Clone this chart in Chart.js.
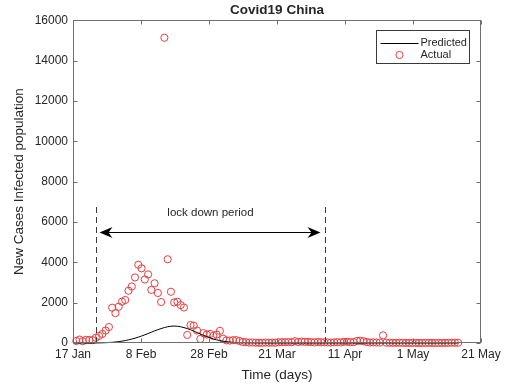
<!DOCTYPE html>
<html>
<head>
<meta charset="utf-8">
<script src="https://cdn.jsdelivr.net/npm/chart.js@4"></script>
<style>
  html, body { margin: 0; padding: 0; background: #fff; }
  #chart { display: block; }
</style>
</head>
<body>
<canvas id="chart" width="508" height="387"></canvas>
<script>
// --- data (x = day index, 0 = 17 Jan) ---
const xTickDays = [0, 20.83, 41.67, 62.5, 83.33, 104.17, 125];
const xTickLabels = ['17 Jan', '8 Feb', '28 Feb', '21 Mar', '11 Apr', '1 May', '21 May'];
const yTicks = [0, 2000, 4000, 6000, 8000, 10000, 12000, 14000, 16000];
const firstDay = 1;

const actualCases = [
  100, 170, 90, 160, 150, 140, 260, 350, 450, 620,
  790, 1750, 1480, 1800, 2050, 2130, 2590, 2800, 3250, 3880,
  3700, 3150, 3400, 2630, 2960, 2480, 2030, 15130, 4150, 2540,
  2010, 2045, 1880, 1760, 400, 890, 860, 620, 200, 490,
  420, 450, 350, 420, 600, 210, 130, 120, 140, 140,
  100, 50, 40, 20, 25, 15, 10, 12, 20, 16,
  20, 13, 35, 40, 40, 45, 40, 90, 50, 70,
  55, 55, 45, 30, 50, 35, 35, 30, 20, 30,
  40, 30, 60, 60, 40, 45, 100, 110, 90, 45,
  25, 30, 25, 20, 380, 15, 12, 10, 10, 12,
  6, 5, 3, 4, 3, 2, 3, 2, 5, 4,
  2, 1, 3, 6, 7, 12, 15, 10
];

const predictedCases = [
  0, 0, 0, 0, 0, 0, 3, 6, 10, 16,
  24, 35, 50, 68, 92, 120, 155, 195, 240, 290,
  345, 405, 470, 535, 600, 660, 715, 765, 805, 830,
  840, 830, 805, 765, 715, 655, 590, 520, 450, 380,
  315, 255, 200, 155, 118, 88, 65, 47, 34, 24,
  17, 12, 8, 6, 4, 3, 2, 1, 0, 0,
  0, 0, 0, 0, 0, 0, 0, 0, 0, 0,
  0, 0, 0, 0, 0, 0, 0, 0, 0, 0,
  0, 0, 0, 0, 0, 0, 0, 0, 0, 0,
  0, 0, 0, 0, 0, 0, 0, 0, 0, 0,
  0, 0, 0, 0, 0, 0, 0, 0, 0, 0,
  0, 0, 0, 0, 0, 0, 0, 0
];

// lockdown annotation (day index / case values)
const lockdownDays = [7.05, 77.2];
const lockdownTop = 6750;
const arrowY = 5500;
const labelY = 6450;

const TEXT = '#262626';
const AXIS = '#6e6e6e';
const RED = 'rgb(232,62,62)';

Chart.defaults.font.family = "'Liberation Sans', Arial, sans-serif";
Chart.defaults.color = TEXT;

const toPoints = arr => arr.map((v, i) => ({ x: firstDay + i, y: v }));

// --- box, inward ticks, lockdown marks and legend, MATLAB style ---
const matlabOverlay = {
  id: 'matlabOverlay',
  afterDatasetsDraw(chart) {
    const { ctx, scales: { x, y } } = chart;
    ctx.save();
    ctx.strokeStyle = '#3a3a3a';
    ctx.lineWidth = 1;
    ctx.setLineDash([6, 4]);
    lockdownDays.forEach(d => {
      const px = Math.round(x.getPixelForValue(d)) + 0.5;
      ctx.beginPath();
      ctx.moveTo(px, y.getPixelForValue(0));
      ctx.lineTo(px, y.getPixelForValue(lockdownTop));
      ctx.stroke();
    });
    ctx.setLineDash([]);

    // double arrow
    const ay = Math.round(y.getPixelForValue(arrowY)) + 0.5;
    const x1 = x.getPixelForValue(lockdownDays[0]) + 3.5;
    const x2 = x.getPixelForValue(lockdownDays[1]) - 4.5;
    ctx.strokeStyle = '#000';
    ctx.beginPath();
    ctx.moveTo(x1 + 4, ay);
    ctx.lineTo(x2 - 4, ay);
    ctx.stroke();
    ctx.fillStyle = '#000';
    [[x1, 1], [x2, -1]].forEach(([tx, dir]) => {
      ctx.beginPath();
      ctx.moveTo(tx, ay);
      ctx.lineTo(tx + dir * 13, ay - 5.5);
      ctx.lineTo(tx + dir * 9, ay);
      ctx.lineTo(tx + dir * 13, ay + 5.5);
      ctx.closePath();
      ctx.fill();
    });

    ctx.fillStyle = TEXT;
    ctx.font = "11.5px 'Liberation Sans', Arial, sans-serif";
    ctx.textAlign = 'center';
    ctx.textBaseline = 'middle';
    ctx.fillText('lock down period', (x.getPixelForValue(lockdownDays[0]) + x.getPixelForValue(lockdownDays[1])) / 2, y.getPixelForValue(labelY));
    ctx.restore();
  },
  afterDraw(chart) {
    const { ctx, chartArea: a, scales: { x, y } } = chart;
    ctx.save();
    ctx.strokeStyle = AXIS;
    ctx.lineWidth = 1;
    const L = Math.round(a.left) + 0.5, R = Math.round(a.right) - 0.5;
    const T = Math.round(a.top) + 0.5, B = Math.round(a.bottom) - 0.5;
    ctx.strokeRect(L, T, R - L, B - T);
    const tl = 4;
    ctx.beginPath();
    x.ticks.forEach(t => {
      const px = Math.round(x.getPixelForValue(t.value)) + 0.5;
      ctx.moveTo(px, B); ctx.lineTo(px, B - tl);
      ctx.moveTo(px, T); ctx.lineTo(px, T + tl);
    });
    y.ticks.forEach(t => {
      const py = Math.round(y.getPixelForValue(t.value)) + 0.5;
      ctx.moveTo(L, py); ctx.lineTo(L + tl, py);
      ctx.moveTo(R, py); ctx.lineTo(R - tl, py);
    });
    ctx.stroke();

    // legend
    const bw = 93, bh = 33;
    const bx = Math.round(a.right - 12 - bw) + 0.5, by = Math.round(a.top + 10) + 0.5;
    ctx.fillStyle = '#fff';
    ctx.fillRect(bx, by, bw, bh);
    ctx.strokeStyle = '#3a3a3a';
    ctx.strokeRect(bx, by, bw, bh);
    const [pred, act] = chart.data.datasets;
    const ly1 = by + 12, ly2 = by + 24.5;
    ctx.strokeStyle = pred.borderColor;
    ctx.lineWidth = pred.borderWidth;
    ctx.beginPath();
    ctx.moveTo(bx + 4, Math.round(ly1) + 0.5);
    ctx.lineTo(bx + 42, Math.round(ly1) + 0.5);
    ctx.stroke();
    ctx.strokeStyle = act.pointBorderColor;
    ctx.lineWidth = act.pointBorderWidth;
    ctx.beginPath();
    ctx.arc(bx + 23, ly2, act.pointRadius, 0, Math.PI * 2);
    ctx.stroke();
    ctx.fillStyle = TEXT;
    ctx.font = "11px 'Liberation Sans', Arial, sans-serif";
    ctx.textAlign = 'left';
    ctx.textBaseline = 'middle';
    ctx.fillText(pred.label, bx + 44, ly1);
    ctx.fillText(act.label, bx + 44, ly2);
    ctx.restore();
  }
};

new Chart(document.getElementById('chart'), {
  type: 'scatter',
  data: {
    datasets: [{
      label: 'Predicted',
      data: toPoints(predictedCases),
      showLine: true,
      borderColor: '#000',
      borderWidth: 1,
      pointRadius: 0,
      tension: 0,
      clip: false
    }, {
      label: 'Actual',
      data: toPoints(actualCases),
      showLine: false,
      pointRadius: 3.6,
      pointBorderWidth: 1,
      pointBorderColor: RED,
      pointBackgroundColor: 'rgba(0,0,0,0)',
      clip: false
    }]
  },
  options: {
    responsive: false,
    animation: false,
    layout: { padding: { left: 0, right: 27, top: 0, bottom: 0 } },
    plugins: {
      legend: { display: false },
      tooltip: { enabled: false },
      title: {
        display: true,
        text: 'Covid19 China',
        fullSize: false,
        color: TEXT,
        font: { size: 13.5, weight: 'bold' },
        padding: { top: 2, bottom: 2 }
      }
    },
    scales: {
      x: {
        type: 'linear',
        min: 0,
        max: 125,
        grid: { display: false, drawTicks: false },
        border: { display: false },
        afterBuildTicks: scale => { scale.ticks = xTickDays.map(v => ({ value: v })); },
        afterFit: scale => { scale.height = 44; },
        ticks: {
          autoSkip: false,
          maxRotation: 0,
          padding: 4,
          color: TEXT,
          font: { size: 12 },
          callback: (v, i) => xTickLabels[i]
        },
        title: {
          display: true,
          text: 'Time (days)',
          color: TEXT,
          font: { size: 13.5 },
          padding: { top: 0, bottom: 4 }
        }
      },
      y: {
        min: 0,
        max: 16000,
        grid: { display: false, drawTicks: false },
        border: { display: false },
        afterBuildTicks: scale => { scale.ticks = yTicks.map(v => ({ value: v })); },
        afterFit: scale => { scale.width = 73; },
        ticks: {
          padding: 5,
          color: TEXT,
          font: { size: 12 },
          callback: v => String(v)
        },
        title: {
          display: true,
          text: 'New Cases Infected population',
          color: TEXT,
          font: { size: 13.5 },
          padding: { top: 11, bottom: 0 }
        }
      }
    }
  },
  plugins: [matlabOverlay]
});
</script>
</body>
</html>
